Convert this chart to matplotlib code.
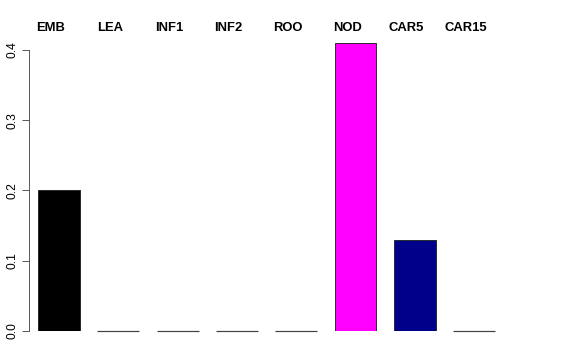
import numpy as np
import matplotlib.pyplot as plt

plt.rcParams['font.family'] = ['Liberation Sans', 'DejaVu Sans']

categories = ["EMB", "LEA", "INF1", "INF2", "ROO", "NOD", "CAR5", "CAR15"]
values = [0.20, 0.0, 0.0, 0.0, 0.0, 0.41, 0.13, 0.0]
colors = ["black", "white", "white", "white", "white", "#FF00FF", "#00008B", "white"]
yticks = [0.0, 0.1, 0.2, 0.3, 0.4]

W, H = 576, 360
fig = plt.figure(figsize=(W / 72, H / 72), dpi=72)

# axes placed in pixel units: y=0 at row 331, spine at column 29
left_px, right_px, bottom_px, top_px = 29, 560, 331, 20
ax = fig.add_axes([left_px / W, (H - bottom_px) / H,
                   (right_px - left_px) / W, (bottom_px - top_px) / H])

step = 59.3
width = 0.708
x = np.arange(len(categories))
ax.set_xlim((left_px - 59) / step, (right_px - 59) / step)
ax.set_ylim(0, (bottom_px - top_px) / 702.5)

ax.bar(x, values, width=width, color=colors, edgecolor="#222222", linewidth=0.9)

# zero-height bars show up as a flat line in the original
vals = np.array(values)
zx = x[vals == 0]
ax.hlines(np.zeros(len(zx)), zx - width / 2, zx + width / 2, color="#444444",
          linewidth=1.2, clip_on=False)

for xi, name in zip(x, categories):
    ax.text(xi - 0.143, 0.4427 - (28 - top_px) / 702.5, name, ha="center", va="center",
            fontsize=13, fontweight="bold", clip_on=False)

for s in ["top", "right", "bottom"]:
    ax.spines[s].set_visible(False)
ax.spines["left"].set_bounds(0, 0.4)
ax.spines["left"].set_color("#333333")
ax.set_xticks([])
ax.set_yticks(yticks)
ax.set_yticklabels(["%.1f" % t for t in yticks], rotation=90, va="center", fontsize=12)
ax.tick_params(axis="y", length=7, pad=3, color="#333333")

fig.savefig("out.png", dpi=72)
